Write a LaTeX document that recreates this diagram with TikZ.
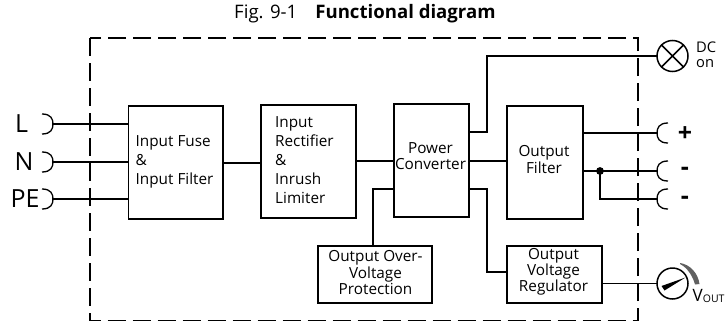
\documentclass[tikz,border=0pt]{standalone}
\usepackage{fontspec}
\setmainfont{Open Sans}
\tikzset{
  wire/.style={line width=1.5pt,line cap=rect},
  boxnode/.style={draw,line width=1.5pt,inner sep=0pt,anchor=north west},
  lbl/.style={inner sep=0pt,font=\fontsize{15.3}{19}\selectfont},
  big/.style={inner sep=0pt,font=\fontsize{25}{25}\selectfont},
  sock/.style={line width=1.3pt,line cap=butt},
  instr/.style={draw,circle,line width=1.5pt,inner sep=0pt,minimum size=31pt},
}
\begin{document}
\begin{tikzpicture}[x=1pt,y=-1pt]
\useasboundingbox (0,0) rectangle (725,324);
\node[inner sep=0pt,anchor=west,font=\fontsize{18.6}{20}\selectfont] (title) at (234,14) {Fig. 9-1\hspace{18pt}\textbf{Functional diagram}};
\draw[line width=1.5pt,dash pattern=on 18pt off 7pt] (90,38) rectangle (638,320.5);
% boxes
\node[boxnode,minimum width=94.5pt,minimum height=113pt] (input) at (127.5,105) {};
\node[boxnode,minimum width=95pt,minimum height=113pt] (rect) at (260,104) {};
\node[boxnode,minimum width=75pt,minimum height=113pt] (power) at (393,103) {};
\node[boxnode,minimum width=76pt,minimum height=113pt] (filter) at (506,105) {};
\node[boxnode,minimum width=114pt,minimum height=57pt] (ovp) at (317,245) {};
\node[boxnode,minimum width=95pt,minimum height=57pt] (reg) at (506,245) {};
% box texts
\node[lbl,anchor=west,align=left] (inputt) at (135.5,162) {Input Fuse\\\&\\Input Filter};
\node[lbl,anchor=west,align=left] (rectt) at (275,160) {Input\\Rectifier\\\&\\Inrush\\Limiter};
\node[lbl,align=center,font=\fontsize{15.3}{16.3}\selectfont] (powert) at (430.5,156) {Power\\Converter};
\node[lbl,align=center,font=\fontsize{15.3}{16.3}\selectfont] (filtert) at (544,159.5) {Output\\Filter};
\node[lbl,align=center,font=\fontsize{15.3}{14.5}\selectfont] (ovpt) at (375.5,272.5) {Output Over-\\Voltage\\Protection};
\node[lbl,align=center,font=\fontsize{15.3}{16}\selectfont] (regt) at (553.5,271.5) {Output\\Voltage\\Regulator};
% sockets
\coordinate (sL) at (53,124);
\coordinate (sN) at (53,162);
\coordinate (sPE) at (53,199);
\coordinate (sP) at (657,133);
\coordinate (sM1) at (657,171);
\coordinate (sM2) at (657,199);
\foreach \c in {sL,sN,sPE}
  \draw[sock] ([shift={(-11,-10)}]\c) .. controls ([shift={(-2,-10)}]\c) and ([shift={(0,-5)}]\c) .. (\c) .. controls ([shift={(0,5)}]\c) and ([shift={(-2,10)}]\c) .. ([shift={(-11,10)}]\c);
\foreach \c in {sP,sM1,sM2}
  \draw[sock] ([shift={(11,-10)}]\c) .. controls ([shift={(2,-10)}]\c) and ([shift={(0,-5)}]\c) .. (\c) .. controls ([shift={(0,5)}]\c) and ([shift={(2,10)}]\c) .. ([shift={(11,10)}]\c);
\node[big] (tL) at (21.5,124) {L};
\node[big] (tN) at (24,162) {N};
\node[big] (tPE) at (25,199) {PE};
\node[big] (tP) at (685,134) {\textbf{+}};
\node[big] (tM1) at (685,171) {\textbf{-}};
\node[big] (tM2) at (685,200) {\textbf{-}};
% input wires
\draw[wire] (sL) -- (sL -| input.west);
\draw[wire] (sN) -- (sN -| input.west);
\draw[wire] (sPE) -- (sPE -| input.west);
\coordinate (j1) at (0,163);
\coordinate (j2) at (0,161);
\draw[wire] (j1 -| input.east) -- (j1 -| rect.west);
\draw[wire] (j2 -| rect.east) -- (j2 -| power.west);
\draw[wire] (j2 -| power.east) -- (j2 -| filter.west);
% lamp
\node[instr] (lamp) at (672.5,56) {};
\draw[line width=1.5pt] (lamp.45) -- (lamp.225) (lamp.135) -- (lamp.315);
\node[inner sep=0pt,align=left,anchor=west,font=\fontsize{14.7}{15}\selectfont] (dc) at (696,55) {DC\\on};
\coordinate (k1) at (487,132);
\draw[wire] (k1 -| power.east) -- (k1) -- (k1 |- lamp.west) -- (lamp.west);
% outputs
\draw[wire] (sP -| filter.east) -- (sP);
\draw[wire] (sM1 -| filter.east) -- (sM1);
\coordinate (jd) at (600,171);
\fill (jd) circle (3.9pt);
\draw[wire] (jd) -- (jd |- sM2) -- (sM2);
% OVP and regulator
\coordinate (k2) at (373,189);
\draw[wire] (ovp.north -| k2) -- (k2) -- (k2 -| power.west);
\coordinate (k3) at (487,189);
\coordinate (k4) at (487,272);
\draw[wire] (k3 -| power.east) -- (k3) -- (k4) -- (k4 -| reg.west);
% meter
\node[instr] (meter) at (672.5,283.5) {};
\draw[wire] (meter.west -| reg.east) -- (meter.west);
\fill (685.5,277.5) -- (661.5,286) -- (664.5,290.5) -- cycle;
\fill[gray!75!black] (680,263) .. controls (690,264.5) and (698,273) .. (699.5,284) -- (695,284.5) .. controls (693,277) and (688,268) .. (680,264) -- cycle;
\node[inner sep=0pt,anchor=west,font=\fontsize{17}{17}\selectfont] (vout) at (692.5,296) {V\raisebox{-1.5pt}{\fontsize{10.5}{10.5}\selectfont OUT}};
\end{tikzpicture}
\end{document}
